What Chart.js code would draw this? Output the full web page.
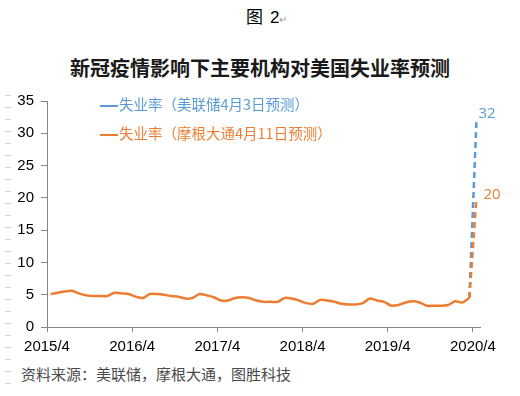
<!DOCTYPE html>
<html>
<head>
<meta charset="utf-8">
<script src="https://cdn.jsdelivr.net/npm/chart.js@4.4.1/dist/chart.umd.min.js"></script>
<style>
  body { margin: 0; background: #fff; }
  #page { position: relative; width: 520px; height: 396px; overflow: hidden; background: #fff; }
  .cn { font-family: "Noto Sans CJK SC", "Noto Sans", sans-serif; position: absolute; white-space: nowrap; }
  #fig { left: 246px; top: 6px; font-size: 17px; line-height: 20px; color: #000; }
  #fig b { font-weight: normal; font-family: "Liberation Sans", sans-serif; margin-left: 7px; }
  #fig span { font-size: 10px; color: #999; }
  #title { left: 70px; top: 57px; font-size: 20px; line-height: 22px; font-weight: bold; color: #1a1a1a; }
  #source { left: 21px; top: 364px; font-size: 15px; line-height: 20px; color: #4a4a4a; }
  #marks { position: absolute; left: 5px; top: 95px; width: 6px; height: 292px;
    background: repeating-linear-gradient(to bottom, #d6d6d6 0 1px, transparent 1px 12px); }
  .leg { position: absolute; left: 100px; font-size: 14.5px; line-height: 18px; font-family: "Noto Sans CJK SC", sans-serif; white-space: nowrap; }
  .leg i { display: inline-block; width: 18px; height: 2px; vertical-align: middle; margin-right: 1px; }
  #wrap { position: absolute; left: 0; top: 85px; width: 520px; height: 275px; }
</style>
</head>
<body>
<div id="page">
  <div id="fig" class="cn">图<b>2</b><span>↵</span></div>
  <div id="title" class="cn">新冠疫情影响下主要机构对美国失业率预测</div>
  <div id="marks"></div>
  <div id="wrap"><canvas id="myChart"></canvas></div>
  <div id="leg1" class="leg" style="top:95px;color:#5B9BD5"><i style="background:#5B9BD5"></i>失业率（美联储4月3日预测）</div>
  <div id="leg2" class="leg" style="top:124px;color:#ED7D31"><i style="background:#ED7D31"></i>失业率（摩根大通4月11日预测）</div>
  <div id="source" class="cn">资料来源：美联储，摩根大通，图胜科技</div>
</div>
<script>
// 美国失业率（月度，2015/4 - 2020/3）
const unemployment = [
  5.1, 5.3, 5.5, 5.6, 5.2, 4.9, 4.8, 4.8, 4.8,
  5.3, 5.2, 5.1, 4.7, 4.5, 5.1, 5.1, 5.0, 4.8, 4.7, 4.4, 4.5,
  5.1, 4.9, 4.6, 4.1, 4.1, 4.5, 4.6, 4.5, 4.1, 3.9, 3.9, 3.9,
  4.5, 4.4, 4.1, 3.7, 3.6, 4.2, 4.1, 3.9, 3.6, 3.5, 3.5, 3.7,
  4.4, 4.1, 3.9, 3.3, 3.4, 3.8, 4.0, 3.8, 3.3, 3.3, 3.3, 3.4,
  4.0, 3.8, 4.5
]

// 2020/4 预测
const forecastFed = 32
const forecastJPM = 20

// x 轴刻度（距 2015/4 的月数）
const tickMonths = [0, 12, 24, 36, 48, 60]
const tickLabels = ['2015/4', '2016/4', '2017/4', '2018/4', '2019/4', '2020/4']

const blue = '#5B9BD5'
const orange = '#ED7D31'

// 数据点画在月中
const lastIdx = unemployment.length - 1
const actualPoints = unemployment.map((v, i) => ({ x: i + 0.5, y: v }))
const fedPoints = [{ x: lastIdx + 0.5, y: unemployment[lastIdx] }, { x: lastIdx + 1.5, y: forecastFed }]
const jpmPoints = [{ x: lastIdx + 0.5, y: unemployment[lastIdx] }, { x: lastIdx + 1.5, y: forecastJPM }]

// 末端数值标签
const endLabels = {
  id: 'endLabels',
  afterDatasetsDraw(chart) {
    const ctx = chart.ctx
    chart.data.datasets.forEach((ds, i) => {
      if (!ds.endLabel) return
      const pts = chart.getDatasetMeta(i).data
      const p = pts[pts.length - 1]
      ctx.save()
      ctx.font = '15px "Open Sans", sans-serif'
      ctx.fillStyle = ds.borderColor
      ctx.textAlign = 'left'
      ctx.textBaseline = 'middle'
      ctx.fillText(ds.endLabel, p.x + ds.labelDx, p.y + ds.labelDy)
      ctx.restore()
    })
  }
}

const axisColor = '#868686'

new Chart(document.getElementById('myChart'), {
  type: 'line',
  data: {
    datasets: [
      { label: '失业率', data: actualPoints, borderColor: orange, borderWidth: 2.5, pointRadius: 0, tension: 0.3 },
      { label: '摩根大通', data: jpmPoints, borderColor: orange, borderWidth: 2.5, borderDash: [6, 4], pointRadius: 0,
        endLabel: String(forecastJPM), labelDx: 7, labelDy: -3 },
      { label: '美联储', data: fedPoints, borderColor: blue, borderWidth: 2.5, borderDash: [6, 4], pointRadius: 0,
        endLabel: String(forecastFed), labelDx: 2, labelDy: -7 }
    ]
  },
  options: {
    responsive: true,
    maintainAspectRatio: false,
    animation: false,
    layout: { padding: { left: 0, right: 40, top: 11, bottom: 0 } },
    plugins: { legend: { display: false }, tooltip: { enabled: false } },
    scales: {
      x: {
        type: 'linear',
        min: 0,
        max: 61,
        afterBuildTicks: axis => { axis.ticks = tickMonths.map(v => ({ value: v })) },
        afterFit: axis => { axis.height = 33 },
        ticks: {
          autoSkip: false,
          maxRotation: 0,
          padding: 6,
          color: '#000',
          font: { family: 'Liberation Sans', size: 15 },
          callback: v => tickLabels[tickMonths.indexOf(v)]
        },
        grid: { drawOnChartArea: false, tickLength: 5, color: axisColor },
        border: { color: axisColor }
      },
      y: {
        min: 0,
        max: 35,
        afterFit: axis => { axis.width = 47 },
        ticks: {
          stepSize: 5,
          padding: 7,
          color: '#000',
          font: { family: 'Liberation Sans', size: 15 }
        },
        grid: { drawOnChartArea: false, tickLength: 6, color: axisColor },
        border: { color: axisColor }
      }
    }
  },
  plugins: [endLabels]
})
</script>
</body>
</html>
